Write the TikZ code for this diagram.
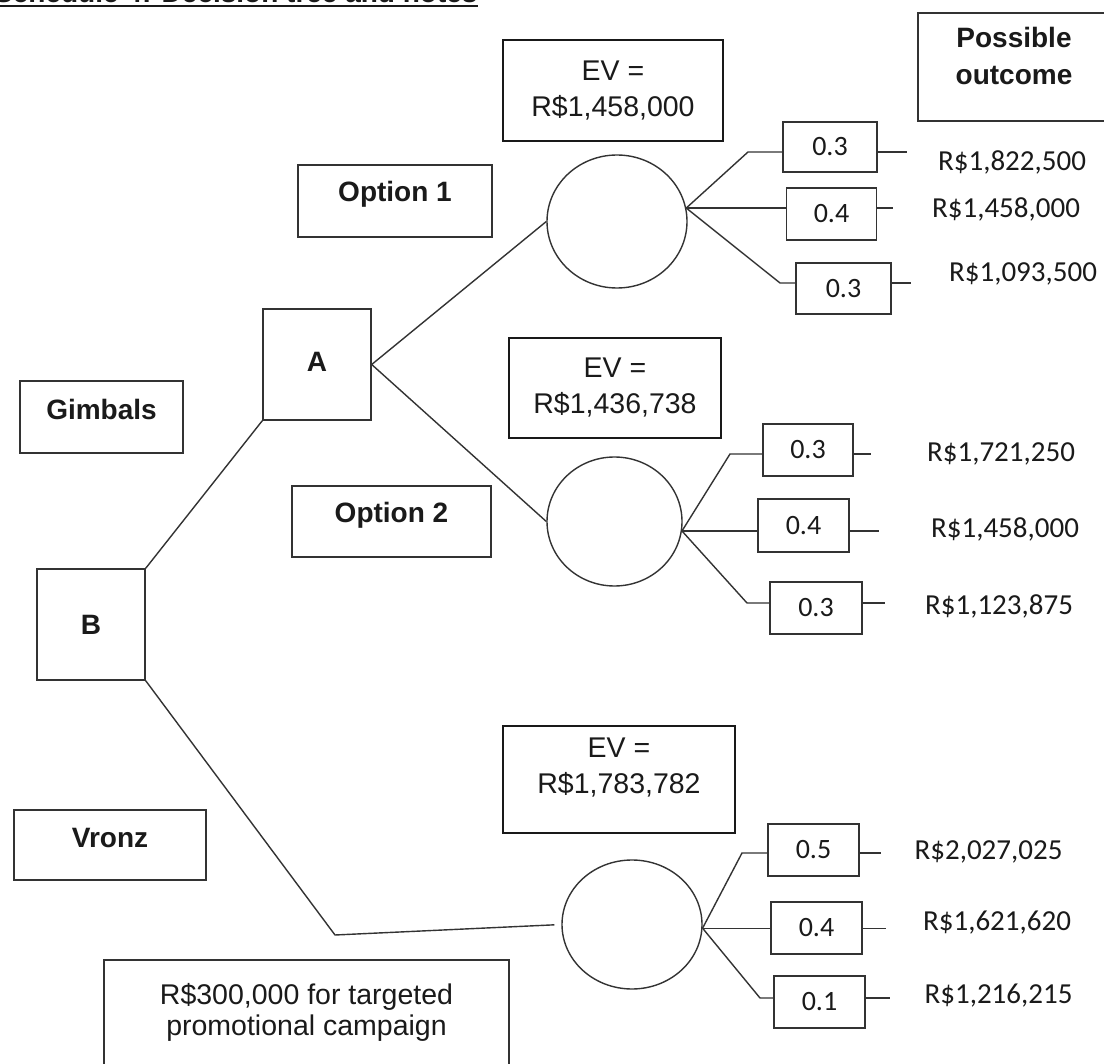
\documentclass[tikz,border=0pt]{standalone}
\usepackage{fontspec}
\setmainfont{Liberation Sans}
\newfontfamily\calib{Carlito}
\usetikzlibrary{shapes.geometric}
\newcommand\fsz[2]{\fontsize{#1}{#2}\selectfont}
\definecolor{ln}{HTML}{333333}
\definecolor{tx}{HTML}{1A1A1A}
\begin{document}
\begin{tikzpicture}[x=1pt,y=-1pt,
 frame/.style={draw=ln, line width=1.4pt, inner sep=0pt, text=tx},
 lbl/.style={frame, font=\fsz{28}{37}\bfseries, align=center},
 evbox/.style={draw=black!90, line width=2.8pt, inner sep=0pt, text=tx, align=center, font=\fsz{28.5}{36}},
 pbox/.style={frame, font=\calib\fsz{28}{34}, minimum width=91pt, minimum height=52pt},
 chance/.style={ellipse, draw=ln, line width=1.4pt, inner sep=0pt},
 conn/.style={draw=ln, line width=1.4pt},
 outc/.style={anchor=base, inner sep=0pt, text=tx, font=\calib\fsz{29}{34}},
]
\useasboundingbox (0,0) rectangle (1104,1064);
\clip (0,0) rectangle (1104,1064);
\fill[white] (0,0) rectangle (1104,1064);

% title (cut off at the top, as in the reference)
\node[anchor=base west, inner sep=0pt, text=tx, font=\fsz{28}{34}\bfseries] (title) at (-6,3) {Schedule 4: Decision tree and notes};
\draw[tx, line width=2pt] ([yshift=-3pt]title.base west) -- ([yshift=-3pt]title.base east);

% label boxes
\node[lbl, minimum width=192pt, minimum height=108pt, text height=36pt, text depth=0pt] (po) at (1014,67) {Possible\\outcome};
\node[lbl, minimum width=194pt, minimum height=72pt, text height=20pt, text depth=18pt] (op1) at (395,201) {Option 1};
\node[lbl, minimum width=199pt, minimum height=71pt, text height=20pt, text depth=18pt] (op2) at (391.5,521.5) {Option 2};
\node[lbl, minimum width=163pt, minimum height=72pt, text height=20pt, text depth=14pt] (gim) at (101.5,417) {Gimbals};
\node[lbl, minimum width=192pt, minimum height=70pt, text height=20pt, text depth=16pt] (vro) at (110,845) {Vronz};
\node[frame, font=\fsz{28.5}{31}, align=center, minimum width=405pt, minimum height=120pt, text height=30pt, text depth=0pt] (note) at (306.5,1020) {R\$300,000 for targeted\\promotional campaign};

% EV boxes
\node[evbox, minimum width=220pt, minimum height=101pt] (ev1) at (613,90.5) {EV =\\R\$1,458,000};
\node[evbox, minimum width=212pt, minimum height=100pt] (ev2) at (615,388) {EV =\\R\$1,436,738};
\node[evbox, minimum width=232pt, minimum height=107pt, text height=27pt, text depth=0pt] (ev3) at (619,779.5) {EV =\\R\$1,783,782};

% decision nodes
\node[lbl, minimum width=108pt, minimum height=111pt, text height=20pt, text depth=5pt] (A) at (317,364.5) {A};
\node[lbl, minimum width=108pt, minimum height=111pt] (B) at (91,624.5) {B};

% chance nodes
\node[chance, minimum width=140pt, minimum height=133pt] (C1) at (617,221.5) {};
\node[chance, minimum width=135pt, minimum height=129pt] (C2) at (614.5,521.5) {};
\node[chance, minimum width=140pt, minimum height=129pt] (C3) at (632,924.5) {};

% probability boxes
\node[pbox, minimum width=94pt, minimum height=50pt] (P11) at (830,147) {0.3};
\node[pbox, minimum width=90pt] (P12) at (831.5,214) {0.4};
\node[pbox, minimum width=95pt, minimum height=51pt] (P13) at (843.5,288.5) {0.3};
\node[pbox, minimum width=90pt] (P21) at (808,450) {0.3};
\node[pbox, minimum height=53pt] (P22) at (803.5,525.5) {0.4};
\node[pbox, minimum width=92pt] (P23) at (816,608) {0.3};
\node[pbox] (P31) at (813.5,850) {0.5};
\node[pbox] (P32) at (816.5,928) {0.4};
\node[pbox] (P33) at (819.5,1002) {0.1};

% outcomes
\node[outc] (O11) at (1012,171) {R\$1,822,500};
\node[outc] (O12) at (1006,218) {R\$1,458,000};
\node[outc] (O13) at (1023,282) {R\$1,093,500};
\node[outc] (O21) at (1001,462) {R\$1,721,250};
\node[outc] (O22) at (1005,538) {R\$1,458,000};
\node[outc] (O23) at (999,614) {R\$1,123,875};
\node[outc] (O31) at (988.5,859) {R\$2,027,025};
\node[outc] (O32) at (997,930) {R\$1,621,620};
\node[outc] (O33) at (998.5,1003) {R\$1,216,215};

% tree connectors
\draw[conn] (B.north east) -- (A.south west);
\draw[conn] (A.east) -- (C1.west);
\draw[conn] (A.east) -- (C2.west);
\coordinate (v1) at (335,935);
\draw[conn, shorten >=7pt] (B.south east) -- (v1) -- (C3.west);

% branches chance 1
\coordinate (e11) at (748,152);
\coordinate (e13) at (780,283);
\draw[conn] (C1.11) -- (e11) -- (P11.west|-e11);
\draw[conn] (C1.11) -- (P12.west|-C1.11);
\draw[conn] (C1.11) -- (e13) -- (P13.west|-e13);
\draw[conn] (P11.east|-e11) -- ++(29,0);
\draw[conn] (P12.east|-C1.11) -- ++(16,0);
\draw[conn] (P13.east|-e13) -- ++(19,0);

% branches chance 2
\coordinate (e21) at (730,454);
\coordinate (e23) at (747,603);
\draw[conn] (C2.-8) -- (e21) -- (P21.west|-e21);
\draw[conn] (C2.-8) -- (P22.west|-C2.-8);
\draw[conn] (C2.-8) -- (e23) -- (P23.west|-e23);
\draw[conn] (P21.east|-e21) -- ++(17,0);
\draw[conn] (P22.east|-C2.-8) -- ++(29,0);
\draw[conn] (P23.east|-e23) -- ++(22,0);

% branches chance 3
\coordinate (e31) at (742,853);
\coordinate (e33) at (760,998);
\draw[conn] (C3.-3) -- (e31) -- (P31.west|-e31);
\draw[conn] (C3.-3) -- (P32.west|-C3.-3);
\draw[conn] (C3.-3) -- (e33) -- (P33.west|-e33);
\draw[conn] (P31.east|-e31) -- ++(21,0);
\draw[conn] (P32.east|-C3.-3) -- ++(23,0);
\draw[conn] (P33.east|-e33) -- ++(24,0);
\end{tikzpicture}
\end{document}
